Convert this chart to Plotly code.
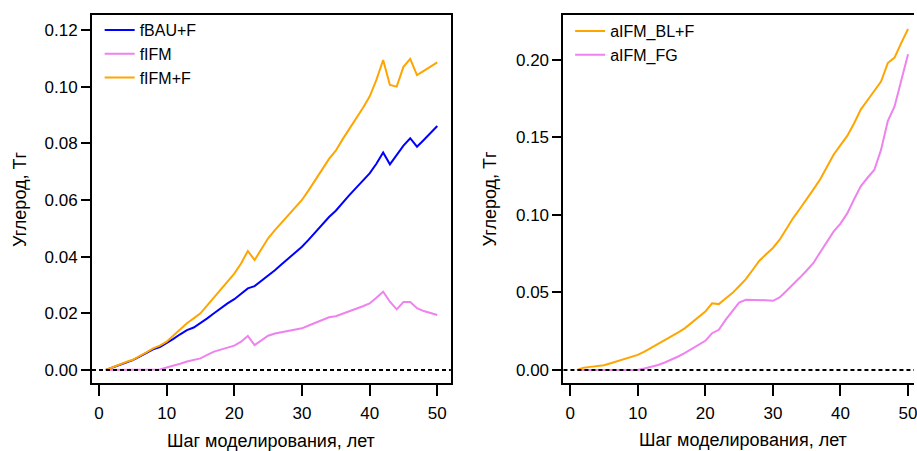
import plotly.graph_objects as go

steps = list(range(1, 51))

fBAU_F = [0, 0.0009, 0.0019, 0.0027, 0.0035, 0.0047, 0.0060, 0.0073, 0.0081, 0.0094,
          0.0110, 0.0126, 0.0141, 0.0150, 0.0165, 0.0182, 0.0200, 0.0218, 0.0235, 0.0250,
          0.0268, 0.0288, 0.0296, 0.0314, 0.0332, 0.0352, 0.0373, 0.0394, 0.0414, 0.0435,
          0.0460, 0.0487, 0.0513, 0.0540, 0.0562, 0.0591, 0.0617, 0.0643, 0.0668, 0.0694,
          0.0728, 0.0768, 0.0726, 0.0759, 0.0792, 0.0818, 0.0788, 0.0812, 0.0837, 0.0861]

fIFM = [0, 0, 0, 0, 0, 0, 0, 0, 0.0002, 0.0009,
        0.0015, 0.0022, 0.0030, 0.0035, 0.0041, 0.0053, 0.0065, 0.0072, 0.0079, 0.0086,
        0.0100, 0.0120, 0.0088, 0.0106, 0.0121, 0.0129, 0.0133, 0.0138, 0.0142, 0.0147,
        0.0157, 0.0167, 0.0177, 0.0186, 0.0190, 0.0198, 0.0206, 0.0216, 0.0225, 0.0235,
        0.0255, 0.0276, 0.0241, 0.0214, 0.0240, 0.0240, 0.0218, 0.0208, 0.0201, 0.0194]

fIFM_F = [0, 0.0010, 0.0020, 0.0028, 0.0036, 0.0048, 0.0062, 0.0076, 0.0086, 0.0100,
          0.0121, 0.0143, 0.0165, 0.0182, 0.0200, 0.0228, 0.0257, 0.0286, 0.0314, 0.0340,
          0.0376, 0.0420, 0.0388, 0.0428, 0.0465, 0.0494, 0.0521, 0.0547, 0.0573, 0.0600,
          0.0635, 0.0670, 0.0708, 0.0745, 0.0774, 0.0814, 0.0850, 0.0886, 0.0925, 0.0965,
          0.1024, 0.1094, 0.1006, 0.1000, 0.1070, 0.1098, 0.1041, 0.1056, 0.1071, 0.1086]

aIFM_BL_F = [0, 0.0015, 0.0020, 0.0025, 0.0030, 0.0043, 0.0056, 0.0070, 0.0083, 0.0097,
             0.0119, 0.0143, 0.0167, 0.0192, 0.0216, 0.0243, 0.0270, 0.0305, 0.0341, 0.0377,
             0.0430, 0.0425, 0.0461, 0.0496, 0.0540, 0.0586, 0.0645, 0.0705, 0.0746, 0.0787,
             0.0840, 0.0910, 0.0980, 0.1040, 0.1100, 0.1165, 0.1230, 0.1310, 0.1390, 0.1450,
             0.1510, 0.1590, 0.1680, 0.1740, 0.1800, 0.1860, 0.1980, 0.2015, 0.2110, 0.2200]

aIFM_FG = [0, 0, 0, 0, 0, 0, 0, 0, 0, 0,
           0.0010, 0.0020, 0.0032, 0.0048, 0.0065, 0.0087, 0.0110, 0.0136, 0.0162, 0.0188,
           0.0237, 0.0259, 0.0323, 0.0380, 0.0435, 0.0453, 0.0453, 0.0452, 0.0450, 0.0446,
           0.0468, 0.0510, 0.0550, 0.0596, 0.0642, 0.0690, 0.0760, 0.0830, 0.0894, 0.0944,
           0.1010, 0.1100, 0.1185, 0.1240, 0.1290, 0.1420, 0.1605, 0.1700, 0.1875, 0.2037]

x_ticks = [0, 10, 20, 30, 40, 50]
y_ticks_left = [0.00, 0.02, 0.04, 0.06, 0.08, 0.10, 0.12]
y_ticks_right = [0.00, 0.05, 0.10, 0.15, 0.20]

y_title = "Углерод, Тг"
x_title = "Шаг моделирования, лет"

BLUE = "#0000ff"
VIOLET = "#ee82ee"
ORANGE = "#ffa500"
FONT = "Liberation Sans, Arial, Helvetica, sans-serif"
FS = 17

W, H = 917, 451
fig = go.Figure()

def add(x, y, name, color, xa, ya, legend):
    fig.add_trace(go.Scatter(x=x, y=y, mode="lines", name=name,
                             line=dict(color=color, width=2),
                             xaxis=xa, yaxis=ya, legend=legend))

add(steps, fBAU_F, "fBAU+F", BLUE, "x", "y", "legend")
add(steps, fIFM, "fIFM", VIOLET, "x", "y", "legend")
add(steps, fIFM_F, "fIFM+F", ORANGE, "x", "y", "legend")
add(steps, aIFM_BL_F, "aIFM_BL+F", ORANGE, "x2", "y2", "legend2")
add(steps, aIFM_FG, "aIFM_FG", VIOLET, "x2", "y2", "legend2")

ydom = [(H - 383.3) / H, (H - 15) / H]
xdom1 = [92.3 / W, 452.3 / W]
xdom2 = [565.3 / W, 1.0]
axis_common = dict(ticks="outside", tickwidth=2, tickcolor="#000000",
                   showgrid=False, zeroline=False,
                   linecolor="#000000", linewidth=2,
                   tickfont=dict(family=FONT, size=FS, color="black"))

fig.update_layout(
    width=W, height=H,
    margin=dict(l=0, r=0, t=0, b=0),
    paper_bgcolor="white", plot_bgcolor="white",
    font=dict(family=FONT, size=FS, color="black"),
    xaxis=dict(axis_common, domain=xdom1, range=[-1.03, 52.0], showline=True, mirror=True,
               tickvals=x_ticks, ticklen=11, ticklabelstandoff=2, anchor="y"),
    yaxis=dict(axis_common, domain=ydom, range=[-0.0047, 0.1253], showline=True, mirror=True,
               tickvals=y_ticks_left, tickformat=".2f", ticklen=9, anchor="x"),
    xaxis2=dict(axis_common, domain=xdom2, range=[-0.99, 50.88], showline=True, mirror=True,
                tickvals=x_ticks, ticklen=11, ticklabelstandoff=2,
                ticklabeloverflow="allow", anchor="y2"),
    yaxis2=dict(axis_common, domain=ydom, range=[-0.0086, 0.229], showline=True, mirror=False,
                tickvals=y_ticks_right, tickformat=".2f", ticklen=9, anchor="x2"),
    legend=dict(x=100 / W, y=(H - 13) / H, xanchor="left", yanchor="top",
                bgcolor="rgba(0,0,0,0)", font=dict(family=FONT, size=16, color="black"),
                tracegroupgap=0),
    legend2=dict(x=572 / W, y=(H - 14) / H, xanchor="left", yanchor="top",
                 bgcolor="rgba(0,0,0,0)", font=dict(family=FONT, size=16, color="black"),
                 tracegroupgap=0),
    showlegend=True,
)

for xr, yr in (("x", "y"), ("x2", "y2")):
    fig.add_shape(type="line", xref=f"{xr} domain", x0=0, x1=1, yref=yr, y0=0, y1=0,
                  line=dict(color="black", width=2, dash="4px,3px"), layer="above")

annots = [
    dict(x=20 / W, y=(H - 199) / H, text=y_title, textangle=-90),
    dict(x=492 / W, y=(H - 199) / H, text=y_title, textangle=-90),
    dict(x=272 / W, y=(H - 441) / H, text=x_title, textangle=0),
    dict(x=745 / W, y=(H - 440) / H, text=x_title, textangle=0),
]
for a in annots:
    fig.add_annotation(xref="paper", yref="paper", showarrow=False,
                       xanchor="center", yanchor="middle",
                       font=dict(family=FONT, size=18, color="black"), **a)

fig.write_html("out.html", config={"displayModeBar": False},
               post_script="document.body.style.margin='0';")
